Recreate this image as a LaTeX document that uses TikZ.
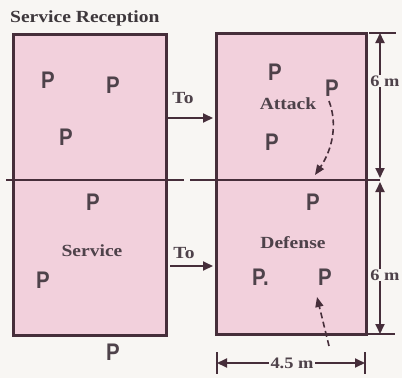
\documentclass[tikz,border=0pt]{standalone}
\usepackage{fontspec}
\setmainfont{Liberation Serif}[FakeStretch=1.15]
\newfontfamily\playerfont{Liberation Sans}[FakeStretch=0.85]
\usetikzlibrary{arrows.meta}
\definecolor{paper}{RGB}{248,246,243}
\definecolor{courtpink}{RGB}{242,208,220}
\definecolor{ink}{RGB}{70,46,58}
\definecolor{txt}{RGB}{78,66,74}
\definecolor{titletxt}{RGB}{62,56,60}
\tikzset{
  court/.style={draw=ink, fill=courtpink, line width=3pt, inner sep=0pt, outer sep=0pt},
  player/.style={text=txt, font=\playerfont\bfseries\fontsize{24}{24}\selectfont, inner sep=0pt},
  label/.style={text=txt, font=\bfseries\fontsize{17}{17}\selectfont, inner sep=0pt},
  netline/.style={draw=ink, line width=2.6pt},
  moveto/.style={draw=ink, line width=2pt, -{Triangle[length=10pt,width=9pt]}},
  dimline/.style={draw=ink, line width=1.8pt, {Triangle[length=10pt,width=9pt]}-{Triangle[length=10pt,width=9pt]}},
  dimtick/.style={draw=ink, line width=1.8pt},
  dimtext/.style={text=txt, font=\bfseries\fontsize{16}{16}\selectfont, fill=paper, inner sep=1.5pt},
  shiftarrow/.style={draw=ink, line width=1.6pt, dash pattern=on 6pt off 3.5pt, -{Triangle[length=10pt,width=8pt]}}
}
\begin{document}
\begin{tikzpicture}[x=1pt,y=-1pt]
\useasboundingbox (0,0) rectangle (402,378);
\fill[paper] (0,0) rectangle (402,378);

% the two courts
\node[court, minimum width=153pt, minimum height=301pt] (leftcourt) at (89.5,184.5) {};
\node[court, minimum width=150pt, minimum height=301pt] (rightcourt) at (291,183.5) {};

% net line across both courts
\coordinate (netA) at (6,180);
\coordinate (netB) at (184,180);
\coordinate (netC) at (190,180);
\coordinate (netD) at (380,180);
\draw[netline] (netA) -- (netB);
\draw[netline] (netC) -- (netD);

% titles and area names
\node[label, text=titletxt, anchor=west] (title) at (10,18) {Service Reception};
\node[label] (attack) at (288,104) {Attack};
\node[label] (service) at (92,251) {Service};
\node[label] (defense) at (293,243) {Defense};

% players, service-reception formation
\node[player] (p1) at (48,80) {P};
\node[player] (p2) at (113,85) {P};
\node[player] (p3) at (66,137) {P};
\node[player] (p4) at (93,202) {P};
\node[player] (p5) at (43,280) {P};
\node[player] (p6) at (113,352) {P};

% players, attack and defense formation
\node[player] (p7) at (275,72) {P};
\node[player] (p8) at (332,88) {P};
\node[player] (p9) at (272,142) {P};
\node[player] (p10) at (313,202) {P};
\node[player, anchor=west] (p11) at (252,277) {P.};
\node[player] (p12) at (325,277) {P};

% transitions between formations
\node[label] (to1) at (183,98) {To};
\node[label] (to2) at (184,253) {To};
\coordinate (to1a) at (168,118);
\coordinate (to1b) at (213,118);
\coordinate (to2a) at (170,266);
\coordinate (to2b) at (213,266);
\draw[moveto] (to1a) -- (to1b);
\draw[moveto] (to2a) -- (to2b);

% player shifts
\coordinate (sh1a) at (329,101);
\coordinate (sh1b) at (315,175);
\draw[shiftarrow] (sh1a) .. controls (338,125) and (332,150) .. (sh1b);
\coordinate (sh2a) at (329,346);
\coordinate (sh2b) at (317,297);
\draw[shiftarrow] (sh2a) -- (sh2b);

% dimensions
\coordinate (dT) at (380,33);
\coordinate (dM1) at (380,178);
\coordinate (dM2) at (380,182);
\coordinate (dB) at (380,334);
\draw[dimtick] (369,33) -- (396,33);
\draw[dimtick] (368,334) -- (395,334);
\draw[dimline] (dT) -- (dM1);
\draw[dimline] (dM2) -- (dB);
\node[dimtext, inner sep=1pt] (d6a) at (385,81) {6 m};
\node[dimtext, inner sep=1pt] (d6b) at (385,275) {6 m};

\coordinate (wL) at (217,363);
\coordinate (wR) at (365,363);
\draw[dimtick] (217,352) -- (217,374);
\draw[dimtick] (365,352) -- (365,374);
\draw[dimline] (wL) -- (wR);
\node[dimtext] (d45) at (292,363) {4.5 m};
\end{tikzpicture}
\end{document}
